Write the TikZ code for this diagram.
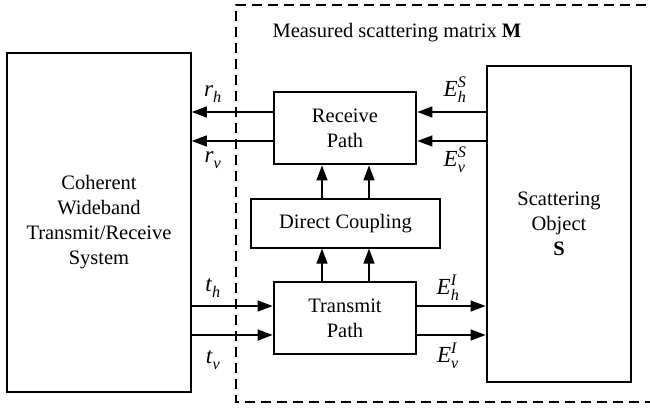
\documentclass[tikz,border=0pt]{standalone}
\usepackage{amsmath}
\usepackage{fontspec}
\setmainfont{Liberation Serif}
\usetikzlibrary{arrows.meta}
\newcommand{\lbl}[3]{\textit{#1}$_{\textit{#2}}^{\textit{#3}}$}
\begin{document}
\begin{tikzpicture}[x=1pt,y=-1pt,
  txt/.style={font=\fontsize{20.5}{25}\selectfont},
  blk/.style={draw,line width=1.6pt,align=center,inner sep=0pt,txt},
  heavy/.style={draw,line width=2.8pt,align=center,inner sep=0pt,txt},
  thin/.style={draw,line width=1.3pt,align=center,inner sep=0pt,txt},
  arr/.style={line width=1.4pt,-{Triangle[length=15pt,width=11pt]}},
  sym/.style={font=\fontsize{23}{26}\selectfont,inner sep=0pt}]
\useasboundingbox (0,0) rectangle (650,409);

% measurement boundary (open to the right)
\draw[line width=1.5pt,dash pattern=on 10pt off 6pt] (662,5) -- (236,5) -- (236,402) -- (662,402);
\node[txt,anchor=west] (title) at (269,33) {Measured scattering matrix \textbf{M}};

% blocks
\node[blk,minimum width=184pt,minimum height=339pt] (sys) at (99,222.5)
  {Coherent\\Wideband\\Transmit/Receive\\System};
\node[heavy,minimum width=142pt,minimum height=72pt] (rcv) at (345,128) {Receive\\Path};
\node[thin,minimum width=189pt,minimum height=49pt] (dc) at (345.5,223.5) {Direct Coupling};
\node[heavy,minimum width=142pt,minimum height=72pt] (xmt) at (345,318) {Transmit\\Path};
\node[heavy,minimum width=144pt,minimum height=316pt] (obj) at (559,224)
  {Scattering\\Object\\\textbf{S}};

% signal rows and columns
\coordinate (yrh) at (0,112);
\coordinate (yrv) at (0,141);
\coordinate (yth) at (0,306);
\coordinate (ytv) at (0,335);
\coordinate (xa) at (322,0);
\coordinate (xb) at (369,0);

% receive side
\draw[arr] (rcv.west |- yrh) -- (sys.east |- yrh);
\draw[arr] (rcv.west |- yrv) -- (sys.east |- yrv);
\draw[arr] (obj.west |- yrh) -- (rcv.east |- yrh);
\draw[arr] (obj.west |- yrv) -- (rcv.east |- yrv);

% transmit side
\draw[arr] (sys.east |- yth) -- (xmt.west |- yth);
\draw[arr] (sys.east |- ytv) -- (xmt.west |- ytv);
\draw[arr] (xmt.east |- yth) -- (obj.west |- yth);
\draw[arr] (xmt.east |- ytv) -- (obj.west |- ytv);

% coupling paths
\draw[arr] (xmt.north -| xa) -- (dc.south -| xa);
\draw[arr] (xmt.north -| xb) -- (dc.south -| xb);
\draw[arr] (dc.north -| xa) -- (rcv.south -| xa);
\draw[arr] (dc.north -| xb) -- (rcv.south -| xb);

% signal labels
\node[sym] (lrh) at (213,94) {\lbl{r}{h}{}};
\node[sym] (lrv) at (213,160) {\lbl{r}{v}{}};
\node[sym] (lth) at (213,288) {\lbl{t}{h}{}};
\node[sym] (ltv) at (213,360) {\lbl{t}{v}{}};
\node[sym] (lesh) at (455,90) {\lbl{E}{h}{S}};
\node[sym] (lesv) at (455,160) {\lbl{E}{v}{S}};
\node[sym] (leih) at (448,288) {\lbl{E}{h}{I}};
\node[sym] (leiv) at (448,356) {\lbl{E}{v}{I}};
\end{tikzpicture}
\end{document}
